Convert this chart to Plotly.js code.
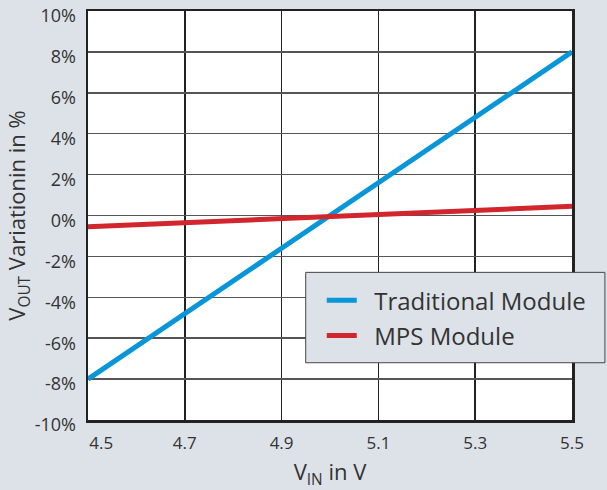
<!DOCTYPE html>
<html>
<head>
<meta charset="utf-8">
<script src="https://cdn.plot.ly/plotly-3.0.1.min.js"></script>
<style>
html,body{margin:0;padding:0;background:#dce2e8;}
#chart{width:607px;height:490px;}
</style>
</head>
<body>
<div id="chart"></div>
<script>
var vin = [4.5, 4.7, 4.9, 5.1, 5.3, 5.5];
var traditional = [-8.0, -4.8, -1.6, 1.6, 4.8, 8.0];
var mps = [-0.55, -0.35, -0.15, 0.05, 0.25, 0.45];
var seriesNames = ['Traditional Module', 'MPS Module'];
var xTicks = [4.5, 4.7, 4.9, 5.1, 5.3, 5.5];
var xTickText = ['\u00a0\u00a0\u00a0\u00a0\u00a0\u00a04.5', '4.7', '4.9', '5.1', '5.3', '5.5'];
var yTicks = [-10, -8, -6, -4, -2, 0, 2, 4, 6, 8, 10];
var yTickText = ['-10%', '-8%', '-6%', '-4%', '-2%', '0%', '2%', '4%', '6%', '8%', '10%'];

var font = 'Open Sans, Noto Sans, sans-serif';
var sp = '\u00a0\u00a0';

var data = [
  {x: vin, y: traditional, type: 'scatter', mode: 'lines', name: sp + seriesNames[0],
   legendgroup: 'a', line: {color: '#0996d9', width: 5}},
  {x: vin, y: mps, type: 'scatter', mode: 'lines', name: sp + seriesNames[1],
   legendgroup: 'b', line: {color: '#d1262d', width: 5}}
];

var layout = {
  width: 607, height: 490,
  paper_bgcolor: '#dce2e8',
  plot_bgcolor: '#ffffff',
  margin: {l: 88, r: 35, t: 11, b: 70, autoexpand: false},
  font: {family: font, color: '#333333', size: 18},
  showlegend: true,
  legend: {
    x: 0.483, y: 0.347, xanchor: 'left', yanchor: 'top',
    bgcolor: 'rgba(0,0,0,0)', borderwidth: 0,
    font: {family: font, size: 24, color: '#333333'},
    tracegroupgap: 1, traceorder: 'grouped'
  },
  shapes: [{
    type: 'rect', xref: 'paper', yref: 'paper', layer: 'above',
    x0: 0.4498, x1: 1.068, y0: 0.140, y1: 0.361,
    fillcolor: '#dce2e8', line: {color: '#444444', width: 1}
  }],
  xaxis: {
    range: [4.5, 5.5], tickvals: xTicks, ticktext: xTickText,
    showgrid: true, gridcolor: '#222222', gridwidth: 1.5,
    showline: true, mirror: true, linecolor: '#222222', linewidth: 2.5,
    zeroline: false, ticks: '', ticklabelstandoff: 6, ticklabeloverflow: 'allow',
    tickfont: {size: 17, color: '#333333'},
    title: {text: 'V<sub>IN</sub> in V', font: {size: 22, color: '#333333'}, standoff: 15}
  },
  yaxis: {
    range: [-10, 10], tickvals: yTicks, ticktext: yTickText,
    showgrid: true, gridcolor: '#555555', gridwidth: 1.5,
    showline: true, mirror: true, linecolor: '#222222', linewidth: 2.5,
    zeroline: false, ticks: '', ticklabelstandoff: 6, ticklabeloverflow: 'allow',
    ticklabelshift: 5,
    tickfont: {size: 18, color: '#333333'},
    title: {text: 'V<sub>OUT</sub> Variationin in %', font: {size: 22, color: '#333333'}, standoff: 3}
  }
};

Plotly.newPlot('chart', data, layout, {displayModeBar: false, staticPlot: true});
</script>
</body>
</html>
